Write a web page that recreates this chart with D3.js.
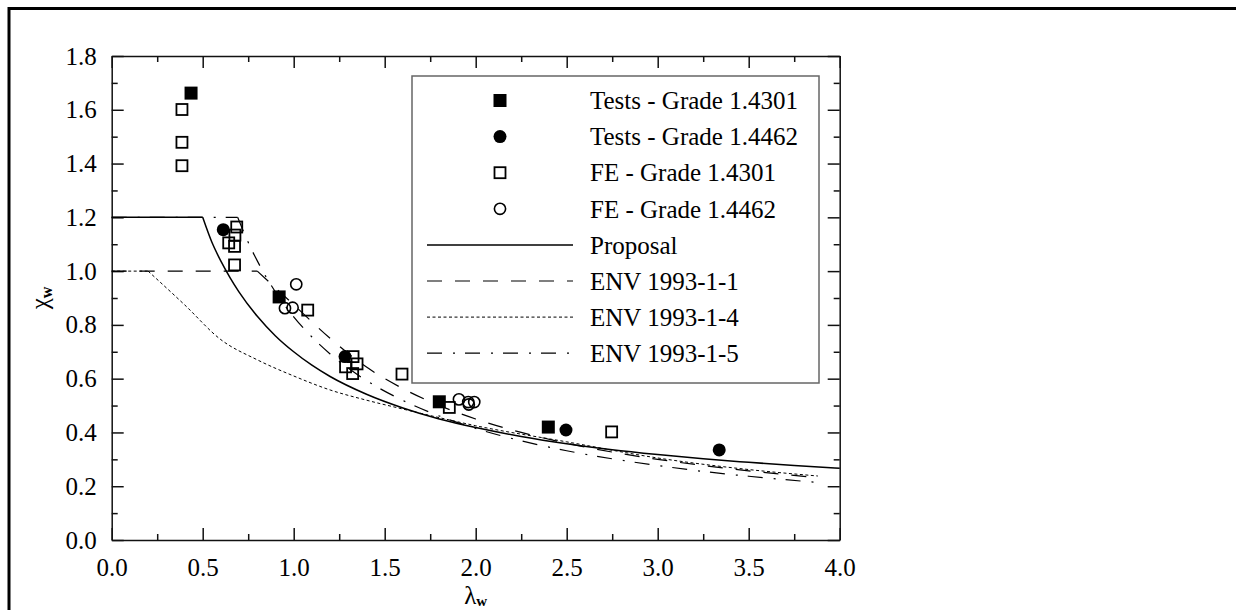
<html>
<head>
  <title>Shear buckling - chi_w vs lambda_w</title>
  <script src="https://d3js.org/d3.v7.min.js"></script>
  <style>
    body { margin: 0; background: #fff; }
    svg text { font-family: "Liberation Serif", "Times New Roman", serif; fill: #000; }
    .axis path, .axis line { stroke: #111; stroke-width: 1.5; }
    .axis text { font-size: 25px; }
    .curve { fill: none; stroke: #000; }
  </style>
</head>
<body>
<div id="chart"></div>
<script>
  // tick values
  var xMajor = [0, 0.5, 1.0, 1.5, 2.0, 2.5, 3.0, 3.5, 4.0];
  var xMinor = [0.25, 0.75, 1.25, 1.75, 2.25, 2.75, 3.25, 3.75];
  var yMajor = [0, 0.2, 0.4, 0.6, 0.8, 1.0, 1.2, 1.4, 1.6, 1.8];
  var yMinor = [0.1, 0.3, 0.5, 0.7, 0.9, 1.1, 1.3, 1.5, 1.7];

  // [lambda_w, chi_w]
  var testsA = [[0.436, 1.662], [0.920, 0.904], [1.800, 0.514], [2.399, 0.420]];
  var testsB = [[0.613, 1.154], [1.282, 0.682], [2.496, 0.409], [3.338, 0.335]];
  var feA = [[0.386, 1.601], [0.386, 1.479], [0.386, 1.392],
             [0.687, 1.164], [0.677, 1.134], [0.643, 1.105], [0.675, 1.092], [0.675, 1.023],
             [1.077, 0.855], [1.326, 0.682], [1.348, 0.655], [1.285, 0.644], [1.324, 0.619],
             [1.595, 0.617], [1.855, 0.493], [2.747, 0.402]];
  var feB = [[1.014, 0.951], [0.952, 0.862], [0.994, 0.864],
             [1.908, 0.523], [1.959, 0.513], [1.992, 0.513], [1.962, 0.504]];

  // design curves, flat plateau and descending branch
  var proposalFlat = [[0, 1.2], [0.5, 1.2]];
  var proposalCurve = [[0.5, 1.2], [0.55, 1.108], [0.6, 1.037], [0.65, 0.976], [0.7, 0.922],
                       [0.8, 0.832], [0.9, 0.759], [1.0, 0.700], [1.1, 0.650], [1.2, 0.608],
                       [1.4, 0.542], [1.6, 0.491], [1.8, 0.450], [2.0, 0.418], [2.25, 0.385],
                       [2.5, 0.358], [2.75, 0.336], [3.0, 0.318], [3.25, 0.302], [3.5, 0.289],
                       [3.75, 0.277], [4.0, 0.267]];
  var env11Flat = [[0, 1.0], [0.8, 1.0]];
  var env11Curve = [[0.8, 1.0], [1.0, 0.875], [1.2, 0.75], [1.4, 0.643], [1.6, 0.563],
                    [1.8, 0.500], [2.0, 0.450], [2.25, 0.400], [2.5, 0.360], [2.75, 0.327],
                    [3.0, 0.300], [3.25, 0.277], [3.5, 0.257], [3.88, 0.232]];
  var env14Flat = [[0, 1.0], [0.2, 1.0]];
  var env14Curve = [[0.2, 1.0], [0.4, 0.875], [0.6, 0.745], [0.8, 0.670], [1.0, 0.610],
                    [1.2, 0.558], [1.4, 0.520], [1.6, 0.487], [1.8, 0.455], [2.0, 0.425],
                    [2.5, 0.365], [3.0, 0.305], [3.5, 0.262], [3.88, 0.238]];
  var env15Flat = [[0, 1.2], [0.692, 1.2]];
  var env15Curve = [[0.692, 1.2], [0.75, 1.107], [0.8, 1.038], [0.9, 0.922], [1.0, 0.830],
                    [1.1, 0.755], [1.2, 0.692], [1.4, 0.593], [1.6, 0.519], [1.8, 0.461],
                    [2.0, 0.415], [2.25, 0.369], [2.5, 0.332], [2.75, 0.302], [3.0, 0.277],
                    [3.25, 0.255], [3.5, 0.237], [3.88, 0.214]];

  var legendNames = ['Tests - Grade 1.4301', 'Tests - Grade 1.4462', 'FE - Grade 1.4301',
                     'FE - Grade 1.4462', 'Proposal', 'ENV 1993-1-1', 'ENV 1993-1-4', 'ENV 1993-1-5'];

  var margin = {top: 56, left: 111.7};
  var width = 728, height = 484;

  var svg = d3.select('#chart').append('svg')
      .attr('width', 1236)
      .attr('height', 610);

  // outer frame (cut off on the right and bottom)
  svg.append('path')
      .attr('d', 'M9,610V8.5H1236')
      .attr('fill', 'none')
      .attr('stroke', '#000')
      .attr('stroke-width', 3);

  var g = svg.append('g')
      .attr('transform', 'translate(' + margin.left + ',' + margin.top + ')');

  var x = d3.scaleLinear().domain([0, 4]).range([0, width]);
  var y = d3.scaleLinear().domain([0, 1.8]).range([height, 0]);

  // axes with inward ticks on all four sides
  g.append('g').attr('class', 'axis')
      .attr('transform', 'translate(0,' + height + ')')
      .call(d3.axisBottom(x).tickValues(xMajor).tickSizeInner(-12).tickSizeOuter(0)
            .tickPadding(18).tickFormat(d3.format('.1f')));
  g.append('g').attr('class', 'axis')
      .call(d3.axisLeft(y).tickValues(yMajor).tickSizeInner(-12).tickSizeOuter(0)
            .tickPadding(15).tickFormat(d3.format('.1f')));
  g.append('g').attr('class', 'axis')
      .call(d3.axisTop(x).tickValues(xMajor).tickSizeInner(-12).tickSizeOuter(0).tickFormat(''));
  g.append('g').attr('class', 'axis')
      .attr('transform', 'translate(' + width + ',0)')
      .call(d3.axisRight(y).tickValues(yMajor).tickSizeInner(-12).tickSizeOuter(0).tickFormat(''));

  var minor = [
    {ax: d3.axisBottom(x).tickValues(xMinor), t: 'translate(0,' + height + ')'},
    {ax: d3.axisTop(x).tickValues(xMinor), t: 'translate(0,0)'},
    {ax: d3.axisLeft(y).tickValues(yMinor), t: 'translate(0,0)'},
    {ax: d3.axisRight(y).tickValues(yMinor), t: 'translate(' + width + ',0)'}
  ];
  minor.forEach(function(m) {
    var mg = g.append('g').attr('class', 'axis')
        .attr('transform', m.t)
        .call(m.ax.tickSize(-6).tickFormat(''));
    mg.select('.domain').remove();
  });

  // axis titles
  g.append('text')
      .attr('x', x(2.0))
      .attr('y', 548)
      .attr('text-anchor', 'middle')
      .style('font-size', '25px')
      .html('λ<tspan dy="2" style="font-size:15px;font-weight:bold">w</tspan>');

  g.append('text')
      .attr('transform', 'translate(' + (48 - margin.left) + ',' + (298 - margin.top) + ') rotate(-90)')
      .attr('text-anchor', 'middle')
      .style('font-size', '25px')
      .html('χ<tspan dy="4" style="font-size:16px;font-weight:bold">w</tspan>');

  // curves
  var lineLin = d3.line()
      .x(function(d) { return x(d[0]); })
      .y(function(d) { return y(d[1]); });
  var lineSmooth = d3.line()
      .x(function(d) { return x(d[0]); })
      .y(function(d) { return y(d[1]); })
      .curve(d3.curveMonotoneX);

  var curves = [
    {flat: env14Flat, curve: env14Curve, dash: '3,2.5', w: 1},
    {flat: env11Flat, curve: env11Curve, dash: '15,13', w: 1.2},
    {flat: env15Flat, curve: env15Curve, dash: '15,11,2,10', w: 1.2},
    {flat: proposalFlat, curve: proposalCurve, dash: null, w: 1.5}
  ];
  curves.forEach(function(c) {
    g.append('path').attr('class', 'curve')
        .attr('d', lineLin(c.flat))
        .attr('stroke-width', c.w)
        .attr('stroke-dasharray', c.dash);
    g.append('path').attr('class', 'curve')
        .attr('d', lineSmooth(c.curve))
        .attr('stroke-width', c.w)
        .attr('stroke-dasharray', c.dash);
  });

  // markers
  function drawMarker(sel, type, cx, cy) {
    if (type === 'sqFill') {
      sel.append('rect').attr('x', cx - 6.5).attr('y', cy - 6.5)
          .attr('width', 13).attr('height', 13).attr('fill', '#000');
    } else if (type === 'sqOpen') {
      sel.append('rect').attr('x', cx - 5.5).attr('y', cy - 5.5)
          .attr('width', 11).attr('height', 11)
          .attr('fill', 'none').attr('stroke', '#000').attr('stroke-width', 1.8);
    } else if (type === 'ciFill') {
      sel.append('circle').attr('cx', cx).attr('cy', cy).attr('r', 6.5).attr('fill', '#000');
    } else {
      sel.append('circle').attr('cx', cx).attr('cy', cy).attr('r', 5.6)
          .attr('fill', 'none').attr('stroke', '#000').attr('stroke-width', 1.6);
    }
  }

  var pointSets = [
    {data: feA, type: 'sqOpen'},
    {data: feB, type: 'ciOpen'},
    {data: testsB, type: 'ciFill'},
    {data: testsA, type: 'sqFill'}
  ];
  pointSets.forEach(function(s) {
    var pg = g.append('g');
    s.data.forEach(function(d) { drawMarker(pg, s.type, x(d[0]), y(d[1])); });
  });

  // legend
  var lg = svg.append('g');
  lg.append('rect')
      .attr('x', 412).attr('y', 76)
      .attr('width', 407).attr('height', 307)
      .attr('fill', '#fff')
      .attr('stroke', '#666')
      .attr('stroke-width', 1.5);

  var legendKeys = [
    {type: 'sqFill'}, {type: 'ciFill'}, {type: 'sqOpen'}, {type: 'ciOpen'},
    {dash: null, w: 1.5}, {dash: '15,13', w: 1.2}, {dash: '3,2.5', w: 1}, {dash: '15,11,2,10', w: 1.2}
  ];
  legendNames.forEach(function(name, i) {
    var ly = 100.5 + i * 36.1;
    var k = legendKeys[i];
    if (k.type) {
      drawMarker(lg, k.type, 500, ly);
    } else {
      lg.append('line')
          .attr('x1', 427).attr('x2', 573)
          .attr('y1', ly).attr('y2', ly)
          .attr('stroke', '#000')
          .attr('stroke-width', k.w)
          .attr('stroke-dasharray', k.dash);
    }
    lg.append('text')
        .attr('x', 590).attr('y', ly)
        .attr('dy', '0.35em')
        .style('font-size', '25px')
        .text(name);
  });
</script>
</body>
</html>
